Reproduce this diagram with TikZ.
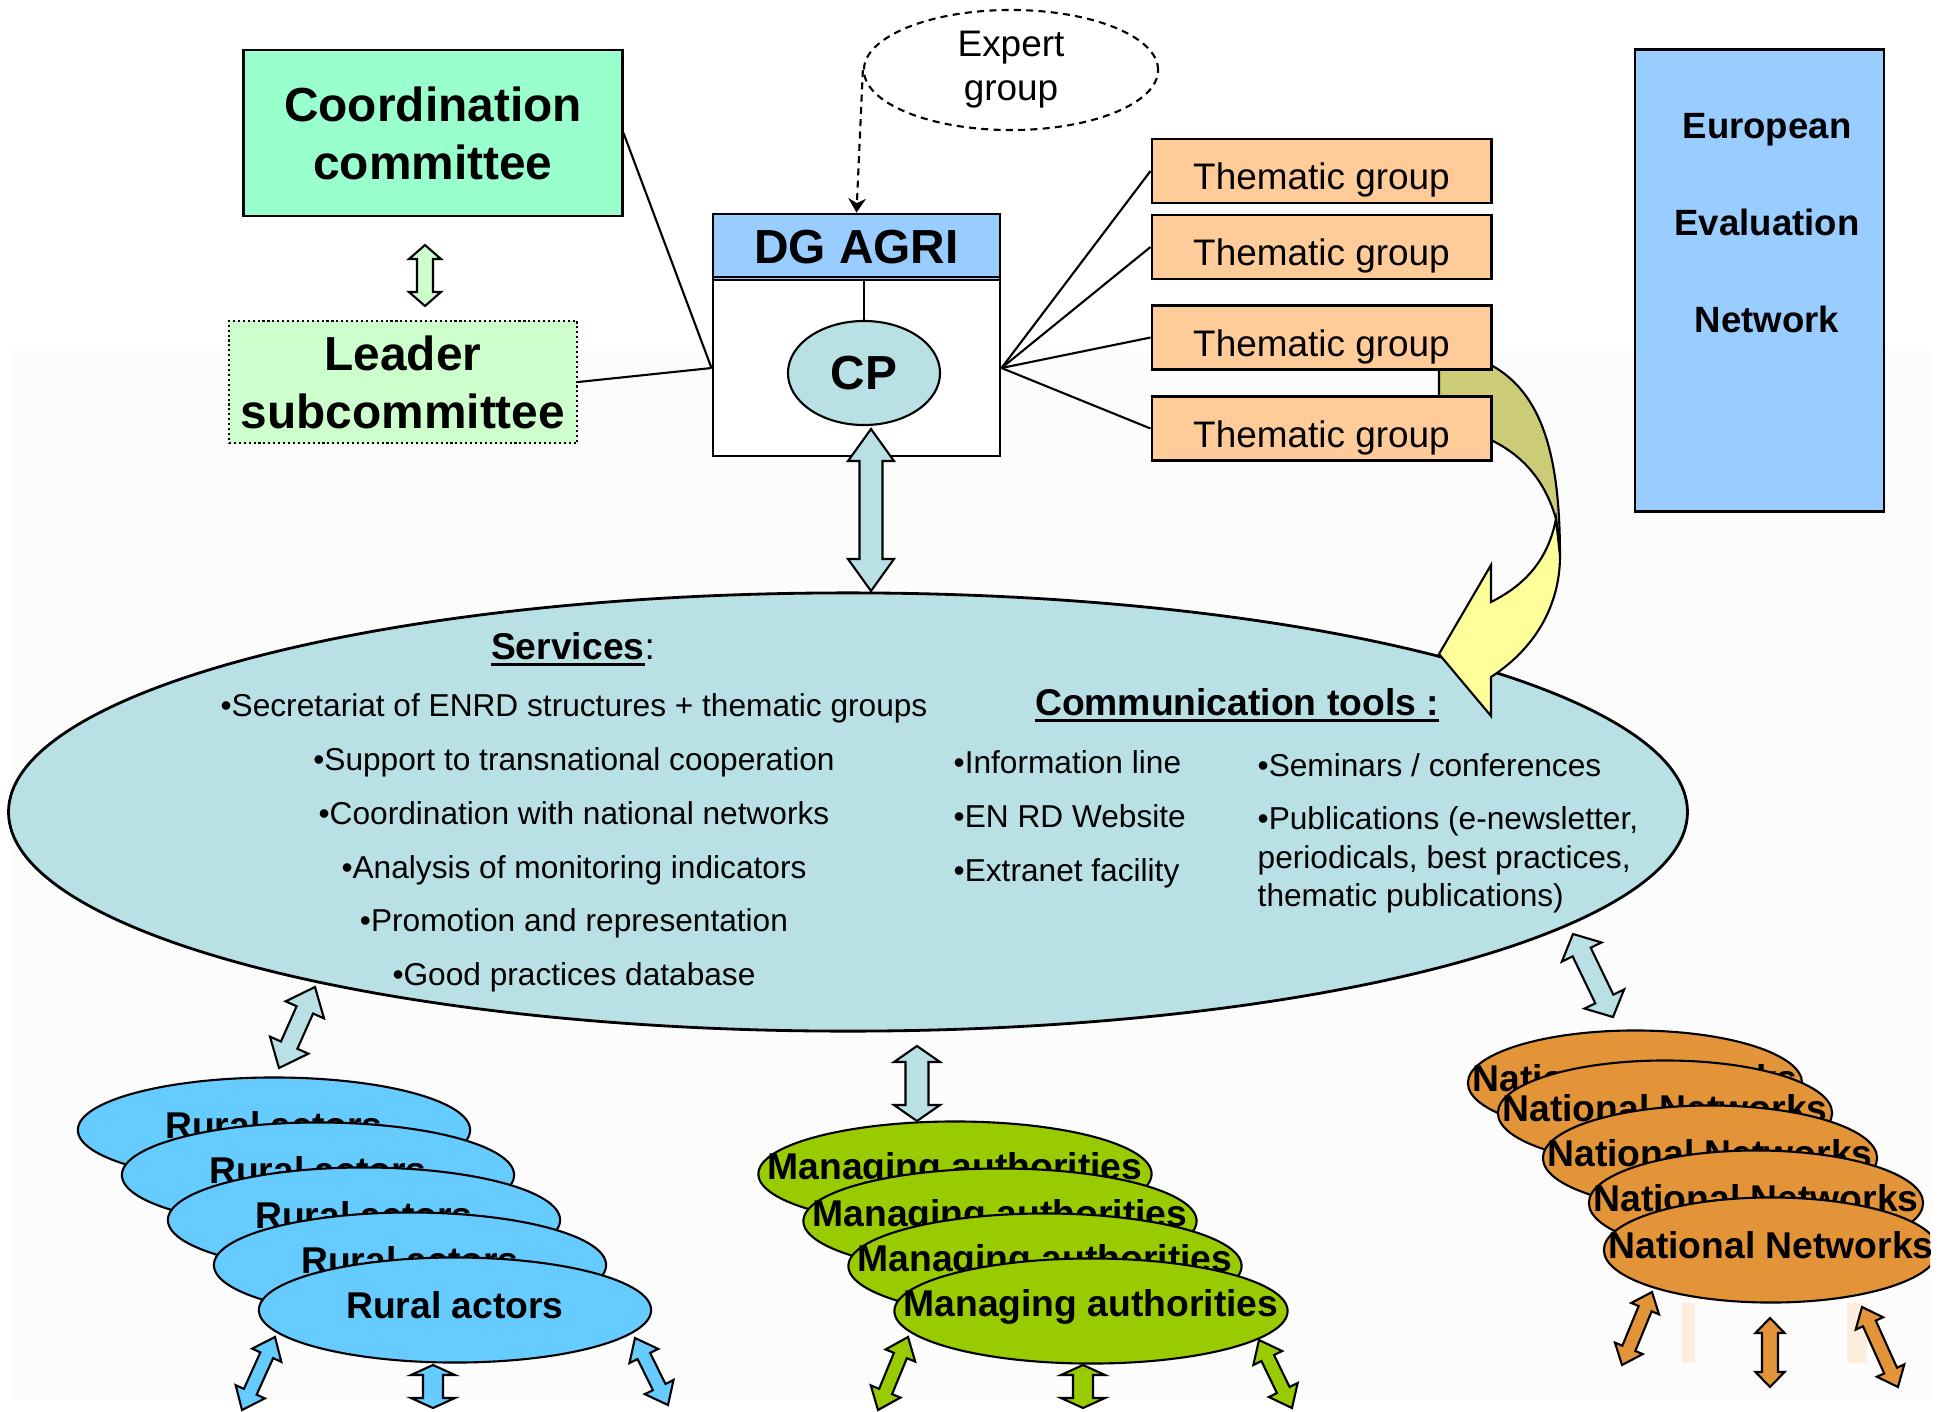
\documentclass[tikz,border=0pt]{standalone}
\usepackage{fontspec}
\setmainfont{Liberation Sans}
\usetikzlibrary{calc,shapes.geometric,arrows.meta}
\definecolor{mint}{RGB}{153,255,204}
\definecolor{leadergreen}{RGB}{204,255,204}
\definecolor{dgblue}{RGB}{153,204,255}
\definecolor{cpteal}{RGB}{185,224,228}
\definecolor{tgpeach}{RGB}{255,204,153}
\definecolor{bandolive}{RGB}{204,204,119}
\definecolor{bandyellow}{RGB}{255,255,153}
\definecolor{ruralblue}{RGB}{102,204,255}
\definecolor{magreen}{RGB}{153,204,0}
\definecolor{natorange}{RGB}{227,148,57}
\definecolor{faintpeach}{RGB}{253,237,220}
\definecolor{faintgrey}{RGB}{252,252,252}
\tikzset{
	bigbold/.style={font=\fontsize{13.6}{16.5}\selectfont\bfseries, align=center},
	box/.style={draw, line width=0.8pt, inner sep=0pt},
	tgbox/.style={box, fill=tgpeach, minimum width=3.39cm, minimum height=0.64cm, text height=10.6pt, text depth=0pt, font=\fontsize{10.5}{12.5}\selectfont},
	stack/.style={ellipse, draw, line width=0.6pt, inner sep=0pt, minimum height=1.05cm},
	stacktext/.style={font=\fontsize{10.6}{12}\selectfont\bfseries, inner sep=0pt, yshift=1.3pt},
	headtext/.style={font=\fontsize{10.6}{12}\selectfont\bfseries, inner sep=0pt},
	link/.style={line width=0.6pt},
	blockarrow/.style={draw, line width=0.6pt, line join=miter},
	itemtext/.style={font=\fontsize{9}{15.3}\selectfont, inner sep=0pt}
}
\def\thickul#1{\leavevmode\setbox0=\hbox{#1}\rlap{\copy0}\rule[-1.9pt]{\wd0}{0.9pt}}
\def\dblarrow[#1](#2)(#3)#4#5#6{%
	\coordinate (ha) at ($(#2)!#6!(#3)$);
	\coordinate (hb) at ($(#3)!#6!(#2)$);
	\draw[#1] (#2) -- ($(ha)!#5!90:(#3)$) -- ($(ha)!#4!90:(#3)$) -- ($(hb)!#4!-90:(#2)$) -- ($(hb)!#5!-90:(#2)$) -- (#3) -- ($(hb)!#5!90:(#2)$) -- ($(hb)!#4!90:(#2)$) -- ($(ha)!#4!-90:(#3)$) -- ($(ha)!#5!-90:(#3)$) -- cycle;}

\begin{document}
\begin{tikzpicture}[x=0.01cm,y=-0.01cm]
	%%%%% START %%%%%
	\useasboundingbox (0,0) rectangle (1950,1411);
	\fill[faintgrey] (10,350) rectangle (1930,1400);
	
	\node[box, fill=mint, minimum width=3.78cm, minimum height=1.66cm, bigbold] (cc) at (433,133) {Coordination\\committee};
	\node[box, fill=leadergreen, line width=0.6pt, dash pattern=on 0.6pt off 0.8pt, minimum width=3.48cm, minimum height=1.22cm, bigbold] (leader) at (403,382) {Leader\\subcommittee};
	\dblarrow[blockarrow, fill=leadergreen](425,245)(425,306){0.08cm}{0.16cm}{0.14cm}
	
	\node[ellipse, draw, line width=0.6pt, dash pattern=on 2pt off 1.5pt, minimum width=2.94cm, minimum height=1.2cm, inner sep=0pt, align=center, font=\fontsize{10.5}{12.5}\selectfont] (expert) at (1011,70) {Expert\\group};
	
	\node[box, fill=white, minimum width=2.87cm, minimum height=1.76cm] (dgbody) at (856.5,368) {};
	\node[box, fill=dgblue, minimum width=2.87cm, minimum height=0.66cm, bigbold] (dghead) at (856.5,247) {DG AGRI};
	\draw[link] (dghead.south west) ++(0,-4) -- ++(287,0);
	\node[ellipse, draw, line width=0.6pt, fill=cpteal, minimum width=1.52cm, minimum height=1.04cm, inner sep=0pt, bigbold] (cp) at (864,373) {CP};
	\draw[link] (cp.north) -- (cp.north |- dghead.south);
	\draw[link, dash pattern=on 2pt off 1.5pt, -{Stealth[length=4pt, width=5pt]}] (expert.west) -- (dghead.north);
	
	\node[ellipse, draw, line width=0.8pt, fill=cpteal, minimum width=16.78cm, minimum height=4.38cm, inner sep=0pt] (services) at (848,812) {};
	
	\draw[link, fill=bandolive] (1439,365) -- (1491,365) .. controls (1540,392) and (1560,450) .. (1560,556) -- (1556,519) .. controls (1545,480) and (1522,455) .. (1491,440) -- (1439,440) -- cycle;
	\draw[link, fill=bandyellow] (1556,519) .. controls (1548,560) and (1525,585) .. (1491,602) -- (1491,565) -- (1439,654) -- (1491,716) -- (1491,677) .. controls (1540,645) and (1560,600) .. (1560,556) -- cycle;
	
	\node[tgbox] (tg1) at (1321.5,171) {Thematic group};
	\node[tgbox] (tg2) at (1321.5,247) {Thematic group};
	\node[tgbox] (tg3) at (1321.5,337.5) {Thematic group};
	\node[tgbox] (tg4) at (1321.5,428.5) {Thematic group};
	
	\draw[link] (cc.east) -- (dgbody.west);
	\draw[link] (leader.east) -- (dgbody.west);
	\draw[link] (dgbody.east) -- (tg1.west);
	\draw[link] (dgbody.east) -- (tg2.west);
	\draw[link] (dgbody.east) -- (tg3.west);
	\draw[link] (dgbody.east) -- (tg4.west);
	
	\node[box, fill=dgblue, minimum width=2.49cm, minimum height=4.61cm] (een) at (1759.5,280.5) {};
	\node[font=\fontsize{10.4}{27.7}\selectfont\bfseries, align=center] (eenlabel) at (1767,223) {European\\Evaluation\\Network};
	
	\node[headtext] (servhead) at (573,649) {\thickul{Services}{\mdseries :}};
	\node[itemtext, align=center] (servlist) at (574,843) {•Secretariat of ENRD structures + thematic groups\\•Support to transnational cooperation\\•Coordination with national networks\\•Analysis of monitoring indicators\\•Promotion and representation\\•Good practices database};
	
	\node[headtext] (commhead) at (1237,705) {\thickul{Communication tools :}};
	\node[itemtext, align=left, anchor=west] (commleft) at (953,819) {•Information line\\•EN RD Website\\•Extranet facility};
	\node[itemtext, anchor=west] (seminars) at (1257,765) {•Seminars / conferences};
	\node[itemtext, align=left, anchor=west, font=\fontsize{9}{11}\selectfont] (publications) at (1257,860) {•Publications (e-newsletter,\\periodicals, best practices,\\thematic publications)};
	
	\dblarrow[blockarrow, fill=cpteal](871,429)(871,591){0.115cm}{0.23cm}{0.32cm}
	\dblarrow[blockarrow, fill=cpteal](315,987)(279,1068){0.09cm}{0.21cm}{0.25cm}
	\dblarrow[blockarrow, fill=cpteal](917,1046)(917,1121){0.115cm}{0.23cm}{0.16cm}
	\dblarrow[blockarrow, fill=cpteal](1573,934)(1613,1017){0.1cm}{0.22cm}{0.2cm}
	
	\node[stack, fill=ruralblue, minimum width=3.92cm] (rural1) at (274,1130) {};
	\node[stacktext] (rural1text) at (rural1) {Rural actors};
	\node[stack, fill=ruralblue, minimum width=3.92cm] (rural2) at (318,1175) {};
	\node[stacktext] (rural2text) at (rural2) {Rural actors};
	\node[stack, fill=ruralblue, minimum width=3.92cm] (rural3) at (364,1220) {};
	\node[stacktext] (rural3text) at (rural3) {Rural actors};
	\node[stack, fill=ruralblue, minimum width=3.92cm] (rural4) at (410,1265) {};
	\node[stacktext] (rural4text) at (rural4) {Rural actors};
	\node[stack, fill=ruralblue, minimum width=3.92cm] (rural5) at (455,1310) {};
	\node[stacktext] (rural5text) at (rural5) {Rural actors};
	
	\node[stack, fill=magreen, minimum width=3.93cm] (ma1) at (955,1174) {};
	\node[stacktext] (ma1text) at (ma1) {Managing authorities};
	\node[stack, fill=magreen, minimum width=3.93cm] (ma2) at (1000,1221) {};
	\node[stacktext] (ma2text) at (ma2) {Managing authorities};
	\node[stack, fill=magreen, minimum width=3.93cm] (ma3) at (1045,1266) {};
	\node[stacktext] (ma3text) at (ma3) {Managing authorities};
	\node[stack, fill=magreen, minimum width=3.93cm] (ma4) at (1091,1311) {};
	\node[stacktext] (ma4text) at (ma4) {Managing authorities};
	
	\node[stack, fill=natorange, minimum width=3.34cm] (nat1) at (1635,1083) {};
	\node[stacktext] (nat1text) at (nat1) {National Networks};
	\node[stack, fill=natorange, minimum width=3.34cm] (nat2) at (1665,1113) {};
	\node[stacktext] (nat2text) at (nat2) {National Networks};
	\node[stack, fill=natorange, minimum width=3.34cm] (nat3) at (1710,1158) {};
	\node[stacktext] (nat3text) at (nat3) {National Networks};
	\node[stack, fill=natorange, minimum width=3.34cm] (nat4) at (1756,1203) {};
	\node[stacktext] (nat4text) at (nat4) {National Networks};
	\begin{scope}
		\clip (0,0) rectangle (1930,1411);
		\node[stack, fill=natorange, minimum width=3.34cm] (nat5) at (1771,1250) {};
		\node[stacktext] (nat5text) at (nat5) {National Networks};
	\end{scope}
	
	\dblarrow[blockarrow, fill=ruralblue](275,1337)(242,1410){0.07cm}{0.16cm}{0.2cm}
	\dblarrow[blockarrow, fill=ruralblue](433,1365)(433,1408){0.1cm}{0.22cm}{0.1cm}
	\dblarrow[blockarrow, fill=ruralblue](635,1338)(668,1405){0.07cm}{0.16cm}{0.2cm}
	
	\dblarrow[blockarrow, fill=magreen](908,1337)(878,1410){0.07cm}{0.16cm}{0.2cm}
	\dblarrow[blockarrow, fill=magreen](1083,1365)(1083,1408){0.1cm}{0.22cm}{0.1cm}
	\dblarrow[blockarrow, fill=magreen](1259,1340)(1292,1408){0.07cm}{0.16cm}{0.2cm}
	
	\fill[faintpeach] (1682,1303) rectangle (1695,1363);
	\fill[faintpeach] (1847,1303) rectangle (1867,1363);
	\dblarrow[blockarrow, fill=natorange](1652,1292)(1622,1365){0.07cm}{0.15cm}{0.18cm}
	\dblarrow[blockarrow, fill=natorange](1770,1318)(1770,1387){0.08cm}{0.145cm}{0.15cm}
	\dblarrow[blockarrow, fill=natorange](1862,1307)(1898,1387){0.07cm}{0.15cm}{0.18cm}
	
	%%%%% END %%%%%
\end{tikzpicture}
\end{document}
